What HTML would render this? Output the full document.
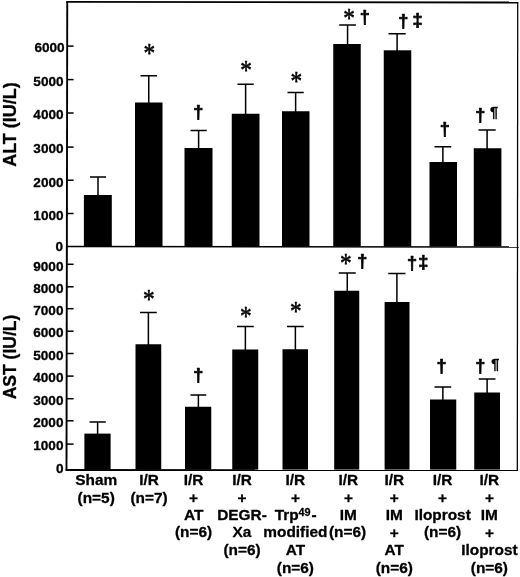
<!DOCTYPE html>
<html><head><meta charset="utf-8"><title>ALT / AST</title>
<style>html,body{margin:0;padding:0;background:#fff}svg{display:block}.b{font-family:"Liberation Sans",Arial,Helvetica,sans-serif;font-weight:bold;fill:#000;stroke:#000;stroke-width:0.3px;stroke-linejoin:round}.s{font-family:"Liberation Serif","Times New Roman",serif;fill:#000;stroke:#000;stroke-width:0.5px}</style></head><body>
<svg width="520" height="577" viewBox="0 0 520 577" style="will-change:transform">
<rect x="0" y="0" width="520" height="577" fill="#fff"/>
<g stroke="#000" fill="none">
<line x1="67.25" y1="1.2" x2="66.5" y2="470.60" stroke-width="1.9"/>
<line x1="66.3" y1="1.9" x2="518.2" y2="2.5" stroke-width="1.8"/>
<line x1="517.7" y1="2" x2="517.3" y2="470.40" stroke-width="1.25"/>
<line x1="66.4" y1="246.50" x2="518.8" y2="246.90" stroke-width="1.5"/>
<line x1="65.6" y1="470.00" x2="518" y2="470.20" stroke-width="1.8"/>
<line x1="67" y1="46.10" x2="73.6" y2="46.10" stroke-width="1.5"/>
<line x1="67" y1="79.60" x2="73.6" y2="79.60" stroke-width="1.5"/>
<line x1="67" y1="113.00" x2="73.6" y2="113.00" stroke-width="1.5"/>
<line x1="67" y1="147.10" x2="73.6" y2="147.10" stroke-width="1.5"/>
<line x1="67" y1="180.20" x2="73.6" y2="180.20" stroke-width="1.5"/>
<line x1="67" y1="213.50" x2="73.6" y2="213.50" stroke-width="1.5"/>
<line x1="67" y1="264.30" x2="73.6" y2="264.30" stroke-width="1.5"/>
<line x1="67" y1="286.80" x2="73.6" y2="286.80" stroke-width="1.5"/>
<line x1="67" y1="308.70" x2="73.6" y2="308.70" stroke-width="1.5"/>
<line x1="67" y1="331.20" x2="73.6" y2="331.20" stroke-width="1.5"/>
<line x1="67" y1="353.50" x2="73.6" y2="353.50" stroke-width="1.5"/>
<line x1="67" y1="376.10" x2="73.6" y2="376.10" stroke-width="1.5"/>
<line x1="67" y1="398.70" x2="73.6" y2="398.70" stroke-width="1.5"/>
<line x1="67" y1="420.80" x2="73.6" y2="420.80" stroke-width="1.5"/>
<line x1="67" y1="444.10" x2="73.6" y2="444.10" stroke-width="1.5"/>
</g>
<g class="b" font-size="13.6" text-anchor="end">
<text x="63.0" y="251.20">0</text>
<text x="64.7" y="52.40">6000</text>
<text x="63.6" y="85.90">5000</text>
<text x="63.6" y="119.30">4000</text>
<text x="63.6" y="153.40">3000</text>
<text x="63.6" y="186.50">2000</text>
<text x="63.6" y="219.80">1000</text>
<text x="63.5" y="473.20">0</text>
<text x="63.5" y="270.50">9000</text>
<text x="63.5" y="293.00">8000</text>
<text x="63.5" y="314.90">7000</text>
<text x="63.5" y="337.40">6000</text>
<text x="63.5" y="359.70">5000</text>
<text x="63.5" y="382.30">4000</text>
<text x="63.5" y="404.90">3000</text>
<text x="63.5" y="427.00">2000</text>
<text x="63.5" y="450.30">1000</text>
</g>
<g class="b" font-size="18" text-anchor="middle">
<text transform="translate(16.4,124.5) rotate(-90)">ALT (IU/L)</text>
<text transform="translate(16.4,357.0) rotate(-90)" font-size="17.5">AST (IU/L)</text>
</g>
<g fill="#000" stroke="none">
<rect x="83.9" y="195" width="27.90" height="51.40"/>
<rect x="135" y="102.5" width="27.50" height="143.90"/>
<rect x="184.5" y="148" width="28.00" height="98.40"/>
<rect x="231.75" y="113.75" width="27.75" height="132.65"/>
<rect x="282" y="111.25" width="27.50" height="135.15"/>
<rect x="333.25" y="44.0" width="27.50" height="202.40"/>
<rect x="383.75" y="50.3" width="27.50" height="196.10"/>
<rect x="429.5" y="162" width="27.50" height="84.40"/>
<rect x="473.75" y="148.25" width="27.65" height="98.15"/>
<rect x="84.4" y="433.6" width="26.20" height="36.00"/>
<rect x="135.5" y="344.25" width="25.75" height="125.35"/>
<rect x="185" y="406.75" width="26.25" height="62.85"/>
<rect x="232.25" y="349.5" width="26.00" height="120.10"/>
<rect x="282.5" y="349.25" width="25.50" height="120.35"/>
<rect x="334.2" y="290.75" width="25.05" height="178.85"/>
<rect x="384.6" y="302" width="24.90" height="167.60"/>
<rect x="430" y="399.5" width="26.25" height="70.10"/>
<rect x="474.25" y="392.5" width="25.75" height="77.10"/>
</g>
<g stroke="#000" stroke-width="1.5" fill="none">
<path d="M90 177H106M98.00 177V196"/>
<path d="M140.5 75.75H157M148.75 75.75V103.5"/>
<path d="M190.5 130.5H206.75M198.62 130.5V149"/>
<path d="M237.5 84.25H253.75M245.62 84.25V114.75"/>
<path d="M287.5 92.5H303.75M295.62 92.5V112.25"/>
<path d="M339.25 25H355.9M347.57 25V45.0"/>
<path d="M388.5 33.7H405.7M397.10 33.7V51.3"/>
<path d="M434.5 146.8H451.25M442.88 146.8V163"/>
<path d="M478.5 130H495.7M487.10 130V149.25"/>
<path d="M89.5 422H105.75M97.62 422V434.6"/>
<path d="M140 312.5H156.75M148.38 312.5V345.25"/>
<path d="M190.5 395H206.25M198.38 395V407.75"/>
<path d="M237 326.5H253.75M245.38 326.5V350.5"/>
<path d="M287 326.5H303.75M295.38 326.5V350.25"/>
<path d="M338.75 273H355.75M347.25 273V291.75"/>
<path d="M388.3 273.5H405.5M396.90 273.5V303"/>
<path d="M434.5 387H451.25M442.88 387V400.5"/>
<path d="M478.75 379H495.5M487.12 379V393.5"/>
</g>
<text class="s" font-size="24.5" text-anchor="middle" transform="translate(149.20,62.00) scale(0.95,1.12)">*</text>
<text class="s" font-size="24.5" text-anchor="middle" transform="translate(246.00,79.10) scale(0.95,1.12)">*</text>
<text class="s" font-size="24.5" text-anchor="middle" transform="translate(296.40,90.40) scale(0.95,1.12)">*</text>
<text class="s" font-size="24.5" text-anchor="middle" transform="translate(349.00,27.40) scale(0.95,1.12)">*</text>
<text class="s" font-size="24.5" text-anchor="middle" transform="translate(148.80,307.90) scale(0.95,1.12)">*</text>
<text class="s" font-size="24.5" text-anchor="middle" transform="translate(245.70,324.70) scale(0.95,1.12)">*</text>
<text class="s" font-size="24.5" text-anchor="middle" transform="translate(295.90,319.70) scale(0.95,1.12)">*</text>
<text class="s" font-size="24.5" text-anchor="middle" transform="translate(345.80,272.20) scale(0.95,1.12)">*</text>
<text class="b" font-size="18.2" style="stroke-width:0.7px" text-anchor="middle" x="198.30" y="117.80">†</text>
<text class="b" font-size="18.2" style="stroke-width:0.7px" text-anchor="middle" x="364.80" y="23.30">†</text>
<text class="b" font-size="18.2" style="stroke-width:0.7px" text-anchor="middle" x="403.25" y="26.60">†</text>
<text class="b" font-size="18.2" style="stroke-width:0.7px" text-anchor="middle" x="444.70" y="134.70">†</text>
<text class="b" font-size="18.2" style="stroke-width:0.7px" text-anchor="middle" x="480.20" y="120.50">†</text>
<text class="b" font-size="18.2" style="stroke-width:0.7px" text-anchor="middle" x="198.20" y="380.50">†</text>
<text class="b" font-size="18.2" style="stroke-width:0.7px" text-anchor="middle" x="362.20" y="267.30">†</text>
<text class="b" font-size="18.2" style="stroke-width:0.7px" text-anchor="middle" x="412.10" y="268.70">†</text>
<text class="b" font-size="18.2" style="stroke-width:0.7px" text-anchor="middle" x="441.45" y="371.55">†</text>
<text class="b" font-size="18.2" style="stroke-width:0.7px" text-anchor="middle" x="480.20" y="371.55">†</text>
<text class="b" font-size="18.2" style="stroke-width:0.7px" text-anchor="middle" x="417.50" y="25.60">‡</text>
<text class="b" font-size="18.2" style="stroke-width:0.7px" text-anchor="middle" x="423.40" y="267.80">‡</text>
<text class="b" font-size="14.6" text-anchor="middle" x="494.0" y="116.60">¶</text>
<text class="b" font-size="14.6" text-anchor="middle" x="495.2" y="368.80">¶</text>
<g class="b" font-size="15.4" text-anchor="middle">
<text x="96.20" y="484.50">Sham</text>
<text x="96.20" y="502.90">(n=5)</text>
<text x="149.00" y="484.50">I/R</text>
<text x="149.00" y="502.90">(n=7)</text>
<text x="193.60" y="484.50">I/R</text>
<text x="193.6" y="503.20">+</text>
<text x="193.60" y="519.70">AT</text>
<text x="193.60" y="537.30">(n=6)</text>
<text x="242.00" y="484.50">I/R</text>
<text x="242" y="503.20">+</text>
<text x="242.00" y="519.70">DEGR-</text>
<text x="242.00" y="537.30">Xa</text>
<text x="242.00" y="554.90">(n=6)</text>
<text x="295.40" y="484.50">I/R</text>
<text x="295.4" y="503.20">+</text>
<text x="274.7" y="519.70" text-anchor="start">Trp<tspan font-size="10.8" dy="-3.3" dx="-0.2">49</tspan><tspan dy="3.3" dx="1.0">-</tspan></text>
<text x="295.40" y="537.30">modified</text>
<text x="295.40" y="554.90">AT</text>
<text x="295.40" y="572.50">(n=6)</text>
<text x="348.40" y="484.50">I/R</text>
<text x="348.4" y="503.20">+</text>
<text x="348.40" y="519.70">IM</text>
<text x="347.50" y="537.30">(n=6)</text>
<text x="394.30" y="484.50">I/R</text>
<text x="394.3" y="503.20">+</text>
<text x="394.30" y="519.70">IM</text>
<text x="394.3" y="538.40">+</text>
<text x="394.30" y="554.90">AT</text>
<text x="394.30" y="572.50">(n=6)</text>
<text x="442.60" y="484.50">I/R</text>
<text x="442.6" y="503.20">+</text>
<text x="442.60" y="519.70">Iloprost</text>
<text x="442.60" y="537.30">(n=6)</text>
<text x="489.40" y="484.50">I/R</text>
<text x="489.4" y="503.20">+</text>
<text x="489.40" y="519.70">IM</text>
<text x="489.4" y="538.40">+</text>
<text x="489.40" y="554.90">Iloprost</text>
<text x="489.40" y="572.50">(n=6)</text>
</g>
</svg></body></html>
